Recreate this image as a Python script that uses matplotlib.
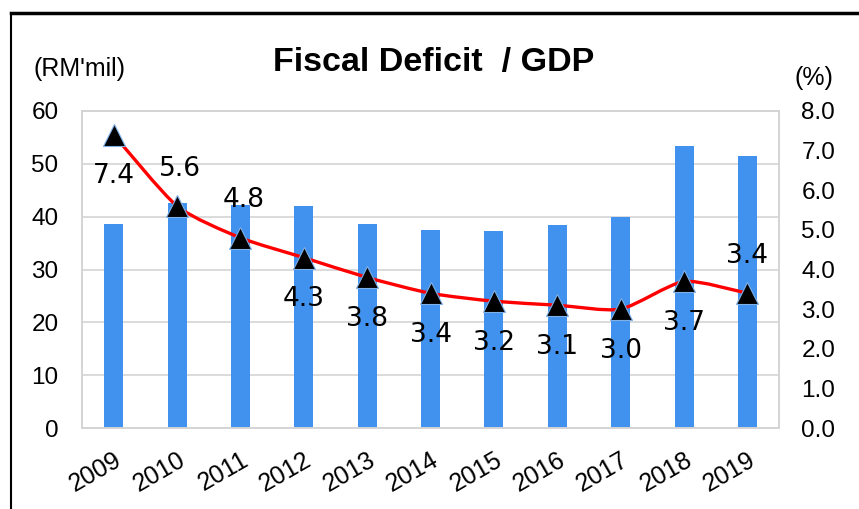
import numpy as np
import matplotlib.pyplot as plt
from matplotlib.path import Path
from matplotlib.patches import PathPatch
from matplotlib.lines import Line2D

years = ["2009", "2010", "2011", "2012", "2013", "2014",
         "2015", "2016", "2017", "2018", "2019"]

# fiscal deficit, RM mil (bars, left axis)
deficit = [38.6, 42.6, 42.2, 42.0, 38.6, 37.5,
           37.2, 38.4, 39.9, 53.4, 51.4]

# deficit as % of GDP (line, right axis)
pct_gdp = [7.4, 5.6, 4.8, 4.3, 3.8, 3.4,
           3.2, 3.1, 3.0, 3.7, 3.4]

# where each value label sits relative to its marker
label_side = ["below", "above", "above", "below", "below", "below",
              "below", "below", "below", "below", "above"]

bar_color = "#4192ee"
grid_color = "#d4d4d4"

fig = plt.figure(figsize=(8.59, 5.09), dpi=100)
ax = fig.add_axes([0.0955, 0.159, 0.8115, 0.623])
ax2 = ax.twinx()

x = np.arange(len(years))

# ==========================================
# Bars (left axis)
# ==========================================
ax.bar(x, deficit, width=0.3, color=bar_color, zorder=2)
ax.set_ylim(0, 60)
ax.set_yticks(range(0, 61, 10))
ax.set_xlim(-0.5, len(years) - 0.5)
ax.set_xticks(x)
ax.set_xticklabels(years, rotation=30, ha="right", rotation_mode="anchor")
ax.yaxis.grid(True, color=grid_color, linewidth=1.2, zorder=0)
ax.set_axisbelow(True)

for a in (ax, ax2):
    for s in a.spines.values():
        s.set_color(grid_color)
        s.set_linewidth(1.2)
    a.tick_params(length=0, labelsize=17.5, colors="black")
    for lab in a.get_xticklabels() + a.get_yticklabels():
        lab.set_family("Liberation Sans")
ax.tick_params(axis="y", pad=17)
ax.tick_params(axis="x", pad=14, labelsize=18)

# ==========================================
# Smoothed line (right axis)
# ==========================================
ax2.set_ylim(0, 8)
ax2.set_yticks(np.arange(0, 8.01, 1.0))
ax2.set_yticklabels([f"{v:.1f}" for v in np.arange(0, 8.01, 1.0)],
                    family="Liberation Sans")
ax2.tick_params(axis="y", pad=16, labelsize=17.5)

# bezier path through the data points (Excel-like smoothing)
pts = np.column_stack([x, pct_gdp]).astype(float)
verts = [pts[0]]
codes = [Path.MOVETO]
n = len(pts)
for i in range(n - 1):
    p0 = pts[i - 1] if i > 0 else pts[i]
    p1 = pts[i]
    p2 = pts[i + 1]
    p3 = pts[i + 2] if i + 2 < n else pts[i + 1]
    c1 = p1 + (p2 - p0) / 9.0
    c2 = p2 - (p3 - p1) / 9.0
    verts += [c1, c2, p2]
    codes += [Path.CURVE4] * 3
ax2.add_patch(PathPatch(Path(verts, codes), facecolor="none",
                        edgecolor="#ff0000", linewidth=2.4, zorder=3))

ax2.plot(x, pct_gdp, linestyle="none", marker="^", markersize=16,
         markerfacecolor="black", markeredgecolor="#7fb0e8",
         markeredgewidth=0.8, zorder=4)

for xi, v, side in zip(x, pct_gdp, label_side):
    dy = 27 if side == "above" else -30
    dx = 2 if side == "above" and xi < 5 else 0
    ax2.annotate(f"{v:.1f}", (xi, v), xytext=(dx, dy),
                 textcoords="offset points", ha="center", va="center",
                 fontsize=19, family="DejaVu Sans", zorder=5)

# ==========================================
# Titles and units
# ==========================================
fig.text(0.505, 0.878, "Fiscal Deficit  / GDP", ha="center", va="center",
         fontsize=24.5, fontweight="bold", family="Liberation Sans")
fig.text(0.093, 0.864, "(RM'mil)", ha="center", va="center",
         fontsize=18, family="Liberation Sans")
fig.text(0.947, 0.846, "(%)", ha="center", va="center",
         fontsize=18, family="Liberation Sans")

# frame around the figure (top and left edges)
fig.add_artist(Line2D([0.013, 1.0], [0.975, 0.975], color="black",
                      linewidth=2.5, transform=fig.transFigure))
fig.add_artist(Line2D([0.013, 0.013], [0.0, 0.975], color="black",
                      linewidth=1.5, transform=fig.transFigure))

plt.savefig("out.png", dpi=100)
